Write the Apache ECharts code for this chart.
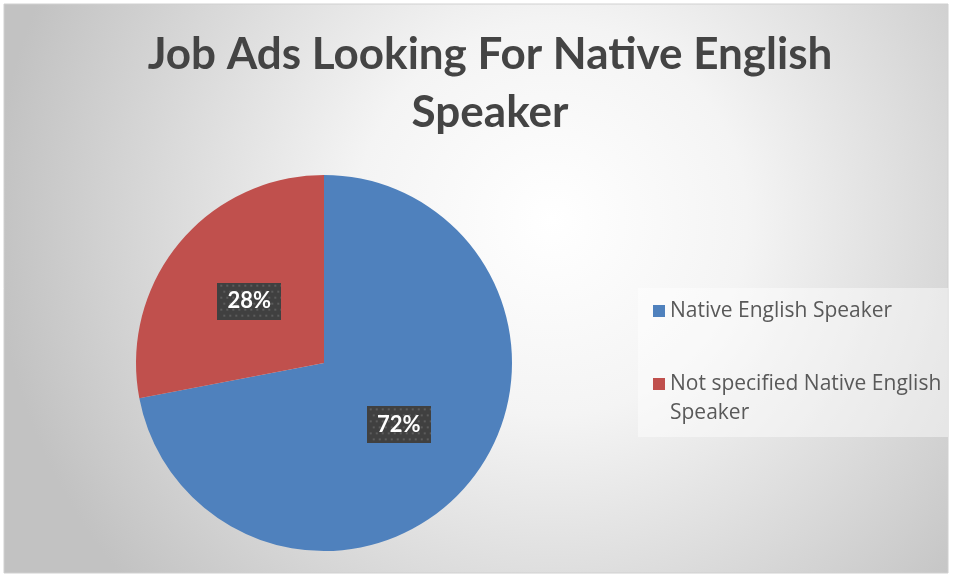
<!DOCTYPE html>
<html><head><meta charset="utf-8">
<script src="https://cdn.jsdelivr.net/npm/echarts@6/dist/echarts.min.js"></script>
<style>html,body{margin:0;padding:0;background:#fff}#c{width:954px;height:575px}</style>
</head><body><div id="c"></div>
<script>
const titleText = 'Job Ads Looking For Native English\nSpeaker';
const categories = ['Native English Speaker', 'Not specified Native English Speaker'];
const legendLabels = ['Native English Speaker', '\nNot specified Native English\nSpeaker'];
const values = [72, 28];
const colors = ['#4f81bd', '#c0504d'];

function dotPattern(w, h) {
  const cv = document.createElement('canvas');
  cv.width = w; cv.height = h;
  const g = cv.getContext('2d');
  g.fillStyle = '#404040'; g.fillRect(0, 0, w, h);
  g.fillStyle = '#5c5c5c';
  for (let y = 2; y < h; y += 6) for (let x = 2 + ((y/6)%2)*3; x < w; x += 6) g.fillRect(x, y, 2, 2);
  return cv;
}
const LW = 64, LH = 37;
const pat = dotPattern(LW, LH);

const legendText = {fontFamily: 'Open Sans', fontSize: 21, color: '#595959', lineHeight: 29};

const chart = echarts.init(document.getElementById('c'));
chart.setOption({
  animation: false,
  graphic: [{
    type: 'rect', z: -10, silent: true,
    shape: {x: 4, y: 4, width: 944, height: 569},
    style: {
      fill: new echarts.graphic.RadialGradient(0.58, 0.38, 0.98, [
        {offset: 0, color: '#ffffff'}, {offset: 0.35, color: '#f4f4f4'}, {offset: 1, color: '#c2c2c2'}
      ]),
      stroke: '#d0d0d0', lineWidth: 1
    }
  }, {
    type: 'rect', z: -5, silent: true,
    shape: {x: 638, y: 288, width: 310, height: 149},
    style: {fill: 'rgba(255,255,255,0.45)'}
  }],
  title: {
    text: titleText, left: 485, top: 21, textAlign: 'center',
    textStyle: {fontFamily: 'Lato', fontWeight: 'bold', fontSize: 44, color: '#444444', lineHeight: 58}
  },
  legend: [{
    orient: 'vertical', left: 653, top: 296.5, padding: 0,
    itemWidth: 12, itemHeight: 12, icon: 'rect',
    data: [categories[0]],
    formatter: name => legendLabels[categories.indexOf(name)],
    textStyle: legendText
  }, {
    orient: 'vertical', left: 653, top: 340.5, padding: 0,
    itemWidth: 12, itemHeight: 12, icon: 'rect',
    data: [categories[1]],
    formatter: name => legendLabels[categories.indexOf(name)],
    textStyle: legendText
  }],
  series: [{
    type: 'pie', center: [324, 363], radius: 188, startAngle: 90, clockwise: true,
    data: categories.map((c, i) => ({name: c, value: values[i], itemStyle: {color: colors[i]}})),
    itemStyle: {borderWidth: 0},
    label: {
      show: true, position: 'inside',
      formatter: p => p.value + '%',
      fontFamily: 'Lato', fontWeight: 'bold', fontSize: 22, color: '#ffffff',
      width: LW, height: LH, align: 'center', verticalAlign: 'middle', lineHeight: LH,
      backgroundColor: {image: pat},
      shadowColor: 'rgba(0,0,0,0.55)', shadowBlur: 5, shadowOffsetX: 3, shadowOffsetY: 3
    },
    labelLine: {show: false},
    emphasis: {disabled: true}
  }]
});
</script></body></html>
